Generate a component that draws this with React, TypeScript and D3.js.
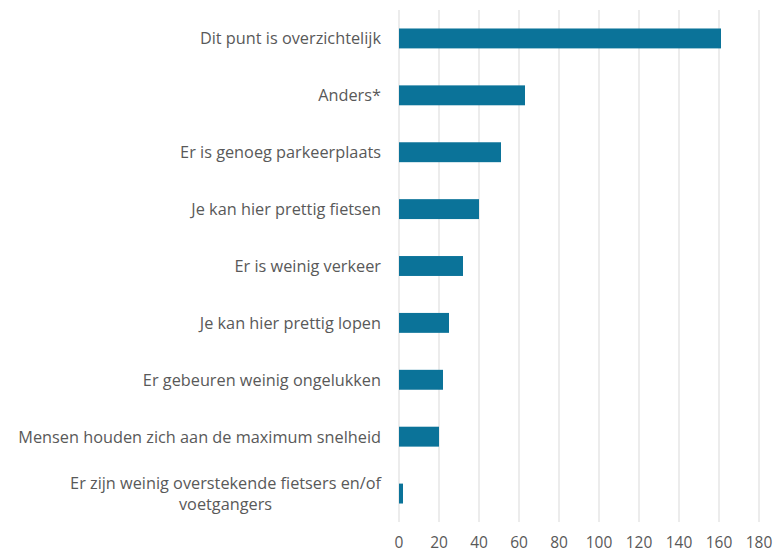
import React from "react";
import * as d3 from "d3";

const categories: string[] = [
  "Dit punt is overzichtelijk",
  "Anders*",
  "Er is genoeg parkeerplaats",
  "Je kan hier prettig fietsen",
  "Er is weinig verkeer",
  "Je kan hier prettig lopen",
  "Er gebeuren weinig ongelukken",
  "Mensen houden zich aan de maximum snelheid",
  "Er zijn weinig overstekende fietsers en/of|voetgangers",
];
const values: number[] = [161, 63, 51, 40, 32, 25, 22, 20, 2];
const ticks: number[] = [0, 20, 40, 60, 80, 100, 120, 140, 160, 180];

const W = 777;
const H = 553;
const FONT = "'Open Sans', sans-serif";
const FS = 16.3;
const TFS = 15.5;

function measure(t: string): number {
  const c = document.createElement("canvas").getContext("2d")!;
  c.font = `${FS}px ${FONT}`;
  return c.measureText(t).width;
}

export default function App() {
  const x = d3.scaleLinear().domain([0, 180]).range([399, 759]);
  const y = d3.scaleBand<string>().domain(categories).range([10, 522]).paddingInner(0.65).paddingOuter(0.325);
  const labelRight = 381;
  const textColor = "#595959";
  return (
    <svg width={W} height={H} style={{ position: "absolute", left: 0, top: 0, background: "#fff" }}>
      {ticks.map((t) => (
        <line key={t} x1={x(t)} x2={x(t)} y1={10} y2={522} stroke="#d9d9d9" strokeWidth={1} />
      ))}
      {categories.map((c, i) => (
        <rect key={c} x={x(0)} y={y(c)!} width={x(values[i]) - x(0)} height={y.bandwidth()} fill="#0b7399" />
      ))}
      {categories.map((c) => {
        const lines = c.split("|");
        const cy = y(c)! + y.bandwidth() / 2;
        if (lines.length === 1) {
          return (
            <text key={c} x={labelRight} y={cy} textAnchor="end" dominantBaseline="central" fontFamily={FONT} fontSize={FS} fill={textColor}>
              {c}
            </text>
          );
        }
        const w = measure(lines[0]);
        const cx = labelRight - w / 2;
        const lh = 21;
        return (
          <text key={c} textAnchor="middle" fontFamily={FONT} fontSize={FS} fill={textColor}>
            {lines.map((l, k) => (
              <tspan key={k} x={cx} y={cy + (k - (lines.length - 1) / 2) * lh} dominantBaseline="central">
                {l}
              </tspan>
            ))}
          </text>
        );
      })}
      {ticks.map((t) => (
        <text key={t} x={x(t)} y={548} textAnchor="middle" fontFamily={FONT} fontSize={TFS} fill={textColor}>
          {t}
        </text>
      ))}
    </svg>
  );
}
